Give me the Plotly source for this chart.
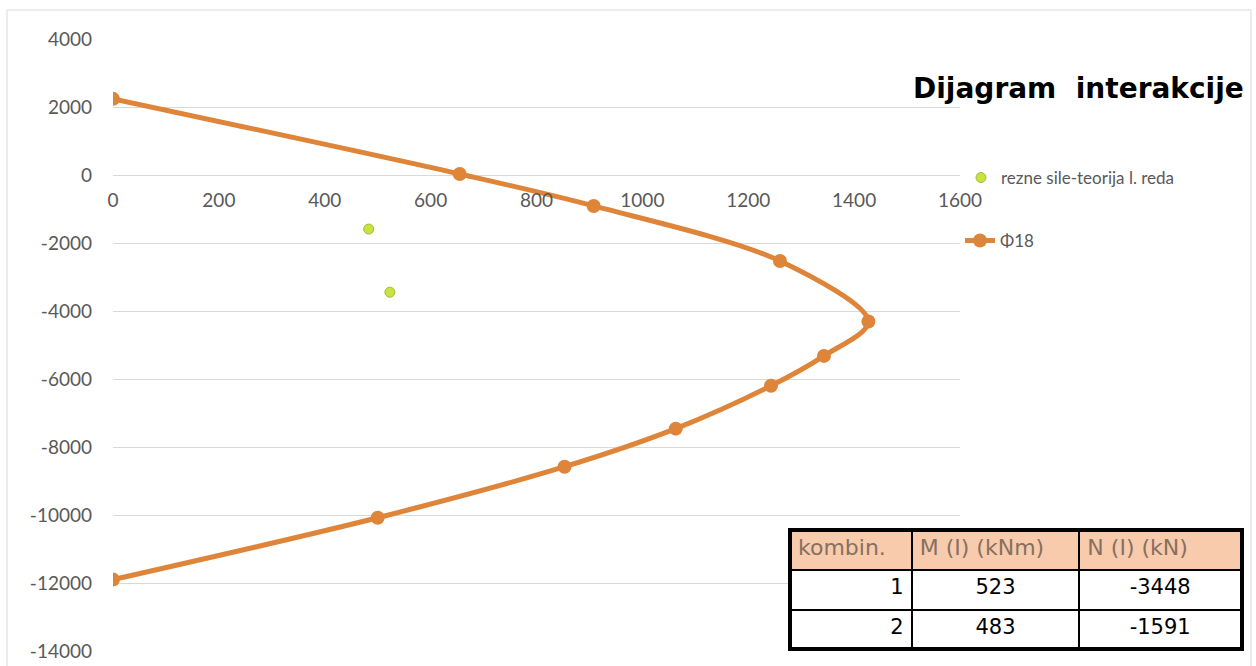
import plotly.graph_objects as go

# Dijagram interakcije - phi 18
M_phi18 = [0, 655, 908, 1260, 1427, 1343, 1243, 1063, 853, 500, 0]
N_phi18 = [2240, 30, -910, -2530, -4310, -5320, -6200, -7460, -8580, -10080, -11900]

# rezne sile - teorija I. reda
M_sile = [523, 483]
N_sile = [-3448, -1591]

# tablica
tab_header = ['kombin.', 'M (I) (kNm)', 'N (I) (kN)']
tab_komb = [1, 2]
tab_M = [523, 483]
tab_N = [-3448, -1591]

x_ticks = [0, 200, 400, 600, 800, 1000, 1200, 1400, 1600]
y_ticks = [4000, 2000, 0, -2000, -4000, -6000, -8000, -10000, -12000, -14000]
y_ticktext = [str(v) for v in y_ticks]

W, H = 1256, 666
def X(p):
    return p / W
def Y(p):
    return 1 - p / H

orange = '#DE853A'
green = '#C8E23F'
lato = 'Lato, sans-serif'
dejavu = 'DejaVu Sans, sans-serif'

fig = go.Figure()

fig.add_trace(go.Scatter(x=M_sile, y=N_sile, mode='markers', name='rezne sile-teorija l. reda',
                         marker=dict(color=green, size=10, line=dict(color='#A3BC35', width=1)),
                         legend='legend'))
fig.add_trace(go.Scatter(x=M_phi18, y=N_phi18, mode='lines+markers', name='Φ18',
                         line=dict(color=orange, width=5, shape='spline', smoothing=0.9),
                         marker=dict(color=orange, size=14),
                         legend='legend2'))

fig.add_trace(go.Table(
    domain=dict(x=[X(790), X(1242)], y=[Y(652), Y(530)]),
    columnwidth=[122, 168, 162],
    header=dict(values=tab_header, fill_color='#F8CBAD', height=40,
                align='left', line=dict(color='black', width=2),
                font=dict(family=dejavu, size=22, color='#86705F')),
    cells=dict(values=[tab_komb, tab_M, tab_N], fill_color='white', height=40,
               align=['right', 'center', 'center'], line=dict(color='black', width=2),
               font=dict(family=dejavu, size=21, color='black')),
))

fig.update_layout(
    width=W, height=H,
    margin=dict(l=0, r=0, t=0, b=0, autoexpand=False),
    paper_bgcolor='white', plot_bgcolor='white',
    font=dict(family=lato, size=19, color='#595959'),
    xaxis=dict(domain=[X(113), X(960)], range=[0, 1600], tickvals=x_ticks, showgrid=False,
               zeroline=False, showline=False, anchor='free', position=Y(175), automargin=False,
               ticks='', ticklabelstandoff=12, tickfont=dict(size=19, color='#595959')),
    yaxis=dict(domain=[Y(651), Y(39)], range=[-14000, 4000], tickvals=y_ticks, ticktext=y_ticktext,
               showgrid=True, gridcolor='#D9D9D9', gridwidth=1, zeroline=False, automargin=False,
               ticks='', tickfont=dict(size=19, color='#595959'), ticklabelstandoff=20),
    legend=dict(x=X(961), y=Y(178), xanchor='left', yanchor='middle', bgcolor='rgba(0,0,0,0)',
                font=dict(size=17, color='#595959')),
    legend2=dict(x=X(960), y=Y(241), xanchor='left', yanchor='middle', bgcolor='rgba(0,0,0,0)',
                 font=dict(size=17, color='#595959')),
    showlegend=True,
)

fig.add_annotation(text='<b>Dijagram  interakcije</b>', xref='paper', yref='paper',
                   x=X(1246), y=Y(88), xanchor='right', yanchor='middle', showarrow=False,
                   font=dict(family=dejavu, size=28, color='black'))

# okvir grafa i tablice
fig.add_shape(type='rect', xref='paper', yref='paper', x0=X(7), x1=X(1251), y0=-0.01, y1=Y(10),
              line=dict(color='#D9D9D9', width=1))
fig.add_shape(type='rect', xref='paper', yref='paper', x0=X(790), x1=X(1242), y0=Y(649), y1=Y(530),
              line=dict(color='black', width=4))

# bez margina stranice
fig.write_html("out.html", config={'displayModeBar': False},
               post_script="document.body.style.margin='0';document.body.style.overflow='hidden';")
